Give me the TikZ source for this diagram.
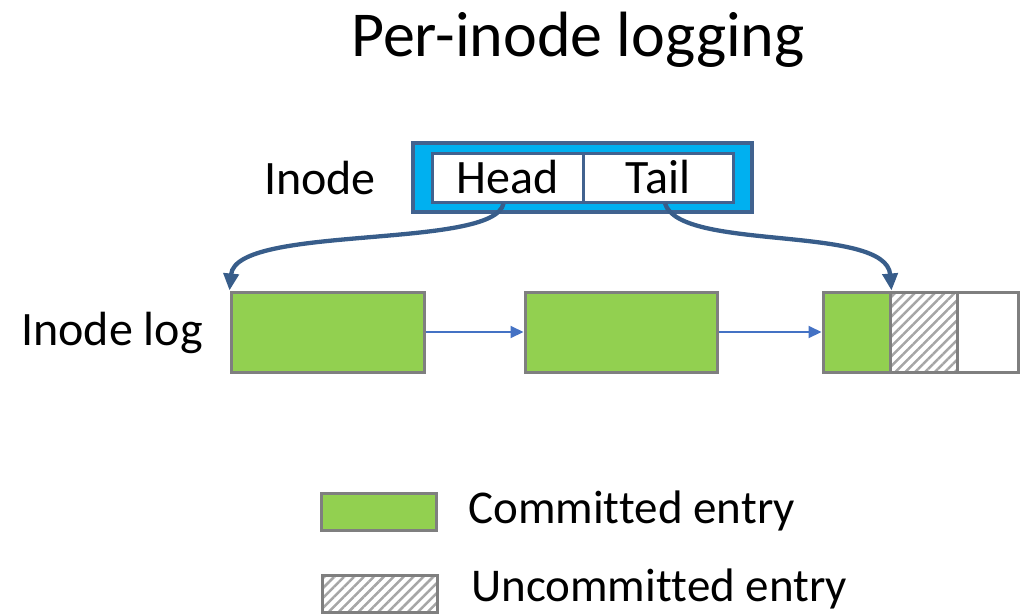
\documentclass[tikz,border=0pt]{standalone}
\usepackage{fontspec}
\setmainfont{Carlito}[Ligatures=NoCommon]
\usetikzlibrary{arrows.meta,patterns.meta}
\definecolor{entrygreen}{HTML}{92D050}
\definecolor{entrygray}{HTML}{7F7F7F}
\definecolor{hatchgray}{HTML}{A6A6A6}
\definecolor{inodecyan}{HTML}{00B0F0}
\definecolor{inodeblue}{HTML}{41628F}
\definecolor{flowblue}{HTML}{4472C4}
\definecolor{curveblue}{HTML}{385D8A}
\begin{document}
\begin{tikzpicture}[x=1pt,y=-1pt,
  big/.style={font=\fontsize{48}{58}\selectfont, inner sep=0pt},
  legtext/.style={font=\fontsize{47}{56}\selectfont, inner sep=0pt, anchor=west},
  entry/.style={draw=entrygray, line width=3pt, fill=entrygreen, inner sep=0pt},
  hatchcell/.style={draw=entrygray, line width=3pt, inner sep=0pt,
    pattern={Lines[angle=45,distance=7pt,line width=2.5pt]}, pattern color=hatchgray},
  emptycell/.style={draw=entrygray, line width=3pt, fill=white, inner sep=0pt},
  flow/.style={draw=flowblue, line width=2pt, -{Triangle[length=13pt,width=12pt]}},
  curve/.style={draw=curveblue, line width=4.3pt, -{Triangle[length=17pt,width=15pt]}},
  cell/.style={draw=inodeblue, line width=3pt, fill=white, inner sep=0pt,
    minimum height=49pt, font=\fontsize{48}{58}\selectfont}
]
\useasboundingbox (0,0) rectangle (1031,614);
% title
\node[inner sep=0pt, font=\fontsize{64}{76}\selectfont] (title) at (578,40) {Per-inode logging};
% inode
\node[big] (inodelbl) at (320,178) {Inode};
\node[draw=inodeblue, line width=3.5pt, fill=inodecyan, minimum width=339pt, minimum height=69pt, inner sep=0pt] (inode) at (582.5,177.5) {};
\node[cell, minimum width=151pt] (head) at (507.5,177.5) {Head};
\node[cell, minimum width=150pt] (tail) at (658,177.5) {Tail};
% log
\node[big] (loglbl) at (112,333) {Inode log};
\node[entry, minimum width=193pt, minimum height=80pt] (b1) at (327.5,332) {};
\node[entry, minimum width=192pt, minimum height=80pt] (b2) at (621,332) {};
\node[entry, minimum width=67pt, minimum height=80pt] (b3) at (856.5,332) {};
\node[hatchcell, minimum width=67pt, minimum height=80pt] (b3h) at (923.5,332) {};
\node[emptycell, minimum width=61pt, minimum height=80pt] (b3e) at (987.5,332) {};
\draw[flow] (b1.east) -- (b2.west);
\draw[flow] (b2.east) -- (b3.west);
% pointers
\draw[curve] ([xshift=-4pt]head.south) .. controls (494,250) and (236,224) .. (b1.north west);
\draw[curve] ([xshift=7pt]tail.south) .. controls (680,252) and (886,224) .. (b3.north east);
% legend
\node[entry, minimum width=115pt, minimum height=37pt] (legc) at (379,511.5) {};
\node[legtext] (legctext) at (468,511) {Commit\kern0pt ted entry};
\node[hatchcell, minimum width=115pt, minimum height=37pt] (legu) at (379.5,594) {};
\node[legtext, anchor=base west] (legutext) at (471,601) {Uncommit\kern0pt ted entry};
\end{tikzpicture}
\end{document}
